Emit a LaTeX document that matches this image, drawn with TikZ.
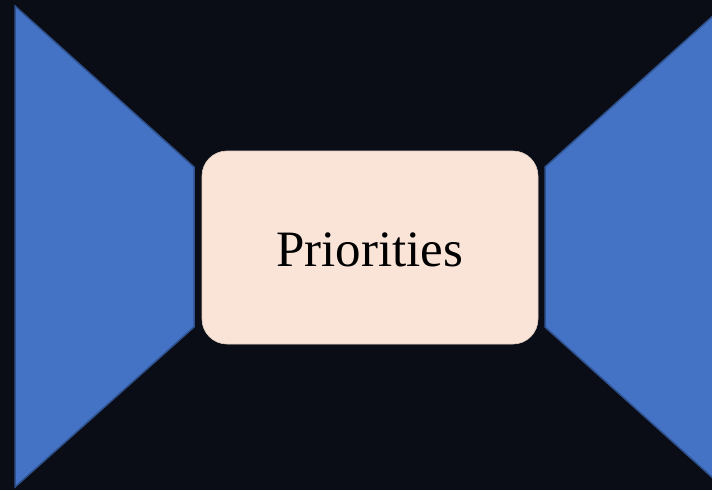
\documentclass[tikz,border=0pt]{standalone}
\usepackage{fontspec}
\setmainfont{Liberation Serif}
\definecolor{bgdark}{HTML}{0A0D16}
\definecolor{wingblue}{HTML}{4472C4}
\definecolor{wingedge}{HTML}{2F528F}
\definecolor{peach}{HTML}{FAE3D7}
\tikzset{
  wing/.style={fill=wingblue, draw=wingedge, line width=1.5pt, line join=miter},
  centerbox/.style={fill=peach, draw=peach!80!gray, line width=0.6pt, rounded corners=25pt,
    minimum width=336pt, minimum height=193pt, inner sep=0pt},
  boxtext/.style={font=\fontsize{51}{60}\selectfont, text=black, anchor=base, inner sep=0pt}
}
\begin{document}
\begin{tikzpicture}[x=1pt,y=-1pt]
\useasboundingbox (0,0) rectangle (712,490);
\fill[bgdark] (0,0) rectangle (712,490);
\begin{scope}
\clip (0,0) rectangle (712,490);
\draw[wing] (15,6) -- (194,167) -- (194,327) -- (15,487) -- cycle;
\draw[wing] (545,167) -- (724,6) -- (724,488) -- (545,327) -- cycle;
\end{scope}
\node[centerbox] (prio) at (370,247.5) {};
\node[boxtext] (prioText) at (369.5,266) {Priorities};
\end{tikzpicture}
\end{document}
